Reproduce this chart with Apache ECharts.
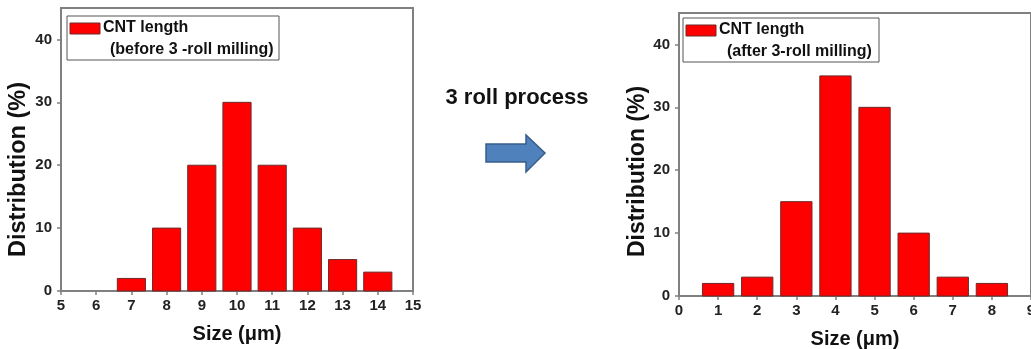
<!DOCTYPE html>
<html>
<head>
<meta charset="utf-8">
<script src="https://cdn.jsdelivr.net/npm/echarts@6/dist/echarts.min.js"></script>
<style>
  html, body { margin: 0; padding: 0; background: #fff; }
  #chart { width: 1031px; height: 349px; }
</style>
</head>
<body>
<div id="chart"></div>
<script>
// CNT length distribution before and after 3-roll milling
const beforeSizes = [7, 8, 9, 10, 11, 12, 13, 14];
const beforeDist  = [2, 10, 20, 30, 20, 10, 5, 3];
const afterSizes  = [1, 2, 3, 4, 5, 6, 7, 8];
const afterDist   = [2, 3, 15, 35, 30, 10, 3, 2];

const legendTitle = 'CNT length';
const beforeNote = '(before 3 -roll milling)';
const afterNote  = '(after 3-roll milling)';
const processText = '3 roll process';
const xName = 'Size (\u03bcm)';
const yName = 'Distribution (%)';

const FONT = '"Liberation Sans", Arial, sans-serif';
const AXIS = '#808080';
const BAR_W = 0.8; // bar width in size units

function pairs(xs, ys) { return xs.map((x, i) => [x, ys[i]]); }

function renderBar(params, api) {
  const x = api.value(0), y = api.value(1);
  const p0 = api.coord([x - BAR_W / 2, y]);
  const p1 = api.coord([x + BAR_W / 2, 0]);
  return {
    type: 'rect',
    shape: { x: p0[0], y: p0[1], width: p1[0] - p0[0], height: p1[1] - p0[1] },
    style: { fill: '#ff0000', stroke: '#6e2a2a', lineWidth: 1 }
  };
}

function xAxisCfg(grid, min, max) {
  return {
    gridIndex: grid, type: 'value', min: min, max: max, interval: 1,
    name: xName, nameLocation: 'middle', nameGap: 33,
    nameTextStyle: { fontFamily: FONT, fontWeight: 'bold', fontSize: 20, color: '#111' },
    axisLine: { lineStyle: { color: AXIS, width: 2 } },
    axisTick: { show: true, length: 4, lineStyle: { color: AXIS, width: 1.5 } },
    axisLabel: { fontFamily: FONT, fontWeight: 'bold', fontSize: 15, color: '#222', margin: 7,
                 showMinLabel: true, showMaxLabel: true },
    splitLine: { show: false }
  };
}

// the axis title sits a little below the middle of the axis
function yAxisCfg(grid, gap, size, shift) {
  return {
    gridIndex: grid, type: 'value', min: 0, max: 45, interval: 10,
    name: yName, nameLocation: 'middle', nameGap: gap, nameRotate: 90,
    nameTextStyle: { fontFamily: FONT, fontWeight: 'bold', fontSize: size, color: '#111',
                     padding: [0, shift, 0, 0] },
    axisLine: { show: true, lineStyle: { color: AXIS, width: 2 } },
    axisTick: { show: true, length: 4, lineStyle: { color: AXIS, width: 1.5 } },
    axisLabel: {
      fontFamily: FONT, fontWeight: 'bold', fontSize: 15, color: '#222', margin: 9,
      showMaxLabel: false,
      formatter: v => (v % 10 === 0 ? String(v) : '')
    },
    splitLine: { show: false }
  };
}

function legendBox(x, y, w, h, note, noteX) {
  return [
    { type: 'rect', shape: { x: x, y: y, width: w, height: h },
      style: { fill: '#fff', stroke: '#555', lineWidth: 1 }, z: 10 },
    { type: 'rect', shape: { x: x + 3, y: y + 7, width: 30, height: 11 },
      style: { fill: '#ff0000', stroke: '#6e2a2a', lineWidth: 1 }, z: 11 },
    { type: 'text', x: x + 36, y: y + 12, z: 11,
      style: { text: legendTitle, font: 'bold 16px ' + FONT, fill: '#111', textVerticalAlign: 'middle' } },
    { type: 'text', x: noteX, y: y + 34, z: 11,
      style: { text: note, font: 'bold 16px ' + FONT, fill: '#111', textVerticalAlign: 'middle' } }
  ];
}

const chart = echarts.init(document.getElementById('chart'), null, { renderer: 'canvas' });
chart.setOption({
  animation: false,
  backgroundColor: '#fff',
  grid: [
    { left: 61, top: 8, width: 352, height: 283, show: true, borderColor: AXIS, borderWidth: 2,
      outerBoundsMode: 'none', containLabel: false },
    { left: 679, top: 13, width: 352, height: 283, show: true, borderColor: AXIS, borderWidth: 2,
      outerBoundsMode: 'none', containLabel: false }
  ],
  xAxis: [xAxisCfg(0, 5, 15), xAxisCfg(1, 0, 9)],
  yAxis: [yAxisCfg(0, 30, 23.5, 40), yAxisCfg(1, 28, 23, 34)],
  series: [
    { type: 'custom', xAxisIndex: 0, yAxisIndex: 0, data: pairs(beforeSizes, beforeDist),
      renderItem: renderBar, encode: { x: 0, y: 1 } },
    { type: 'custom', xAxisIndex: 1, yAxisIndex: 1, data: pairs(afterSizes, afterDist),
      renderItem: renderBar, encode: { x: 0, y: 1 } }
  ],
  graphic: [
    ...legendBox(67, 16, 212, 44, beforeNote, 110),
    ...legendBox(683, 18, 196, 44, afterNote, 727),
    { type: 'text', x: 517, y: 98,
      style: { text: processText, font: 'bold 22px ' + FONT, fill: '#111',
               textAlign: 'center', textVerticalAlign: 'middle' } },
    { type: 'polygon',
      shape: { points: [[486, 144], [526, 144], [526, 135], [545, 153], [526, 172], [526, 162], [486, 162]] },
      style: { fill: '#4f81bd', stroke: '#385d8a', lineWidth: 1.5 } }
  ]
});
</script>
</body>
</html>
